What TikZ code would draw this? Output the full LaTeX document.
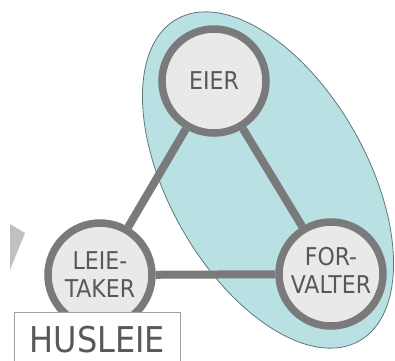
\documentclass[tikz,border=0pt]{standalone}
\usepackage{fontspec}
\setmainfont{DejaVu Sans Condensed}
\definecolor{ringgray}{RGB}{122,122,122}
\definecolor{circfill}{RGB}{233,233,233}
\definecolor{txtgray}{RGB}{88,88,88}
\definecolor{tealfill}{RGB}{185,224,227}
\definecolor{tealedge}{RGB}{95,120,125}
\definecolor{wedge}{RGB}{192,192,192}
\definecolor{boxedge}{RGB}{160,160,160}
\pgfdeclarelayer{backmost}
\pgfdeclarelayer{links}
\pgfsetlayers{backmost,links,main}
\tikzset{
  role/.style={circle, draw=ringgray, fill=circfill, line width=7.5pt,
    minimum size=104pt, inner sep=0pt, text=txtgray, align=center,
    font=\fontsize{24.5}{28}\selectfont},
  link/.style={draw=ringgray, line width=8pt},
  labelbox/.style={draw=boxedge, line width=0.9pt, fill=white, text=txtgray,
    minimum width=166pt, minimum height=54pt, inner sep=0pt,
    font=\fontsize{35.5}{40}\selectfont}
}
\begin{document}
\begin{tikzpicture}[x=1pt,y=-1pt]
\useasboundingbox (0,0) rectangle (395,360);
\begin{pgfonlayer}{backmost}
% teal ellipse
\draw[fill=tealfill, draw=tealedge, line width=0.8pt, rotate around={-60.4:(268,180)}]
  (268,180) ellipse [x radius=185, y radius=99];
% grey wedge on left
\fill[wedge] (10,224) -- (25,233) -- (10,270) -- cycle;
\end{pgfonlayer}
% nodes
\node[role] (eier) at (214,81) {EIER};
\node[role] (leie) at (100,275) {LEIE-\\TAKER};
\node[role] (forv) at (331,274) {\raisebox{-4pt}{\begin{tabular}{@{}c@{}}FOR-\\VALTER\end{tabular}}};
% links behind circles
\begin{pgfonlayer}{links}
\path (eier) edge[link] (leie) edge[link] (forv);
\path (leie) edge[link] (forv);
\end{pgfonlayer}
% label box
\node[labelbox, anchor=north west] (husleie) at (14,312) {HUSLEIE};
\end{tikzpicture}
\end{document}
